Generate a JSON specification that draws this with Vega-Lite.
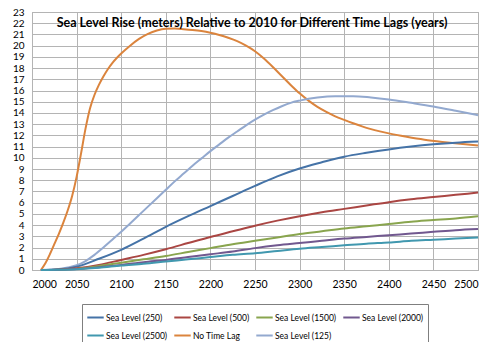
{
  "$schema": "https://vega.github.io/schema/vega-lite/v6.json",
  "width": 446,
  "height": 258,
  "autosize": {"type": "none"},
  "padding": {"left": 32, "top": 12, "right": 22, "bottom": 72},
  "background": "white",
  "title": {
    "text": "Sea Level Rise (meters) Relative to 2010 for Different Time Lags (years)",
    "font": "Lato",
    "fontSize": 12.5,
    "fontWeight": "bold",
    "color": "#000000",
    "anchor": "middle",
    "offset": -22,
    "dx": -3
  },
  "config": {
    "view": {"stroke": "#a0a0a0", "strokeWidth": 1},
    "axis": {
      "labelFont": "Lato",
      "labelFontSize": 10.5,
      "labelColor": "#000000",
      "gridColor": "#b4b4b4",
      "gridWidth": 1,
      "domain": false,
      "ticks": false,
      "title": null
    },
    "legend": {
      "labelFont": "Lato",
      "labelFontSize": 8.5,
      "labelColor": "#000000"
    }
  },
  "data": {
    "values": [
      {"year": 2010, "series": "No Time Lag", "value": 0},
      {"year": 2015, "series": "No Time Lag", "value": 0.6},
      {"year": 2020, "series": "No Time Lag", "value": 1.4},
      {"year": 2025, "series": "No Time Lag", "value": 2.3},
      {"year": 2030, "series": "No Time Lag", "value": 3.2},
      {"year": 2035, "series": "No Time Lag", "value": 4.2},
      {"year": 2040, "series": "No Time Lag", "value": 5.3},
      {"year": 2045, "series": "No Time Lag", "value": 6.6},
      {"year": 2050, "series": "No Time Lag", "value": 8.3},
      {"year": 2055, "series": "No Time Lag", "value": 10.4},
      {"year": 2060, "series": "No Time Lag", "value": 12.6},
      {"year": 2065, "series": "No Time Lag", "value": 14.4},
      {"year": 2070, "series": "No Time Lag", "value": 15.6},
      {"year": 2075, "series": "No Time Lag", "value": 16.5},
      {"year": 2080, "series": "No Time Lag", "value": 17.25},
      {"year": 2085, "series": "No Time Lag", "value": 17.9},
      {"year": 2090, "series": "No Time Lag", "value": 18.45},
      {"year": 2095, "series": "No Time Lag", "value": 18.9},
      {"year": 2100, "series": "No Time Lag", "value": 19.3},
      {"year": 2110, "series": "No Time Lag", "value": 20.0},
      {"year": 2120, "series": "No Time Lag", "value": 20.6},
      {"year": 2130, "series": "No Time Lag", "value": 21.05},
      {"year": 2140, "series": "No Time Lag", "value": 21.35},
      {"year": 2150, "series": "No Time Lag", "value": 21.5},
      {"year": 2160, "series": "No Time Lag", "value": 21.52},
      {"year": 2170, "series": "No Time Lag", "value": 21.47},
      {"year": 2180, "series": "No Time Lag", "value": 21.4},
      {"year": 2190, "series": "No Time Lag", "value": 21.3},
      {"year": 2200, "series": "No Time Lag", "value": 21.15},
      {"year": 2210, "series": "No Time Lag", "value": 20.95},
      {"year": 2220, "series": "No Time Lag", "value": 20.7},
      {"year": 2230, "series": "No Time Lag", "value": 20.4},
      {"year": 2240, "series": "No Time Lag", "value": 20.0},
      {"year": 2250, "series": "No Time Lag", "value": 19.5},
      {"year": 2260, "series": "No Time Lag", "value": 18.85},
      {"year": 2270, "series": "No Time Lag", "value": 18.1},
      {"year": 2280, "series": "No Time Lag", "value": 17.3},
      {"year": 2290, "series": "No Time Lag", "value": 16.5},
      {"year": 2300, "series": "No Time Lag", "value": 15.75},
      {"year": 2310, "series": "No Time Lag", "value": 15.1},
      {"year": 2320, "series": "No Time Lag", "value": 14.55},
      {"year": 2330, "series": "No Time Lag", "value": 14.1},
      {"year": 2340, "series": "No Time Lag", "value": 13.7},
      {"year": 2350, "series": "No Time Lag", "value": 13.38},
      {"year": 2360, "series": "No Time Lag", "value": 13.08},
      {"year": 2370, "series": "No Time Lag", "value": 12.8},
      {"year": 2380, "series": "No Time Lag", "value": 12.56},
      {"year": 2390, "series": "No Time Lag", "value": 12.36},
      {"year": 2400, "series": "No Time Lag", "value": 12.18},
      {"year": 2420, "series": "No Time Lag", "value": 11.88},
      {"year": 2440, "series": "No Time Lag", "value": 11.62},
      {"year": 2460, "series": "No Time Lag", "value": 11.42},
      {"year": 2480, "series": "No Time Lag", "value": 11.25},
      {"year": 2500, "series": "No Time Lag", "value": 11.1},

      {"year": 2010, "series": "Sea Level (125)", "value": 0},
      {"year": 2020, "series": "Sea Level (125)", "value": 0.03},
      {"year": 2030, "series": "Sea Level (125)", "value": 0.1},
      {"year": 2040, "series": "Sea Level (125)", "value": 0.22},
      {"year": 2050, "series": "Sea Level (125)", "value": 0.42},
      {"year": 2060, "series": "Sea Level (125)", "value": 0.8},
      {"year": 2070, "series": "Sea Level (125)", "value": 1.35},
      {"year": 2080, "series": "Sea Level (125)", "value": 2.0},
      {"year": 2090, "series": "Sea Level (125)", "value": 2.7},
      {"year": 2100, "series": "Sea Level (125)", "value": 3.4},
      {"year": 2110, "series": "Sea Level (125)", "value": 4.15},
      {"year": 2120, "series": "Sea Level (125)", "value": 4.9},
      {"year": 2130, "series": "Sea Level (125)", "value": 5.65},
      {"year": 2140, "series": "Sea Level (125)", "value": 6.4},
      {"year": 2150, "series": "Sea Level (125)", "value": 7.15},
      {"year": 2160, "series": "Sea Level (125)", "value": 7.9},
      {"year": 2170, "series": "Sea Level (125)", "value": 8.6},
      {"year": 2180, "series": "Sea Level (125)", "value": 9.3},
      {"year": 2190, "series": "Sea Level (125)", "value": 9.95},
      {"year": 2200, "series": "Sea Level (125)", "value": 10.6},
      {"year": 2210, "series": "Sea Level (125)", "value": 11.2},
      {"year": 2220, "series": "Sea Level (125)", "value": 11.8},
      {"year": 2230, "series": "Sea Level (125)", "value": 12.35},
      {"year": 2240, "series": "Sea Level (125)", "value": 12.9},
      {"year": 2250, "series": "Sea Level (125)", "value": 13.4},
      {"year": 2260, "series": "Sea Level (125)", "value": 13.85},
      {"year": 2270, "series": "Sea Level (125)", "value": 14.25},
      {"year": 2280, "series": "Sea Level (125)", "value": 14.6},
      {"year": 2290, "series": "Sea Level (125)", "value": 14.9},
      {"year": 2300, "series": "Sea Level (125)", "value": 15.1},
      {"year": 2320, "series": "Sea Level (125)", "value": 15.38},
      {"year": 2340, "series": "Sea Level (125)", "value": 15.5},
      {"year": 2360, "series": "Sea Level (125)", "value": 15.5},
      {"year": 2380, "series": "Sea Level (125)", "value": 15.38},
      {"year": 2400, "series": "Sea Level (125)", "value": 15.2},
      {"year": 2425, "series": "Sea Level (125)", "value": 14.9},
      {"year": 2450, "series": "Sea Level (125)", "value": 14.58},
      {"year": 2475, "series": "Sea Level (125)", "value": 14.2},
      {"year": 2500, "series": "Sea Level (125)", "value": 13.8},

      {"year": 2010, "series": "Sea Level (250)", "value": 0},
      {"year": 2030, "series": "Sea Level (250)", "value": 0.06},
      {"year": 2050, "series": "Sea Level (250)", "value": 0.3},
      {"year": 2075, "series": "Sea Level (250)", "value": 1.0},
      {"year": 2100, "series": "Sea Level (250)", "value": 1.8},
      {"year": 2125, "series": "Sea Level (250)", "value": 2.8},
      {"year": 2150, "series": "Sea Level (250)", "value": 3.85},
      {"year": 2175, "series": "Sea Level (250)", "value": 4.8},
      {"year": 2200, "series": "Sea Level (250)", "value": 5.7},
      {"year": 2225, "series": "Sea Level (250)", "value": 6.6},
      {"year": 2250, "series": "Sea Level (250)", "value": 7.5},
      {"year": 2275, "series": "Sea Level (250)", "value": 8.35},
      {"year": 2300, "series": "Sea Level (250)", "value": 9.05},
      {"year": 2325, "series": "Sea Level (250)", "value": 9.6},
      {"year": 2350, "series": "Sea Level (250)", "value": 10.1},
      {"year": 2375, "series": "Sea Level (250)", "value": 10.45},
      {"year": 2400, "series": "Sea Level (250)", "value": 10.75},
      {"year": 2425, "series": "Sea Level (250)", "value": 11.0},
      {"year": 2450, "series": "Sea Level (250)", "value": 11.2},
      {"year": 2475, "series": "Sea Level (250)", "value": 11.35},
      {"year": 2500, "series": "Sea Level (250)", "value": 11.45},

      {"year": 2010, "series": "Sea Level (500)", "value": 0},
      {"year": 2030, "series": "Sea Level (500)", "value": 0.03},
      {"year": 2050, "series": "Sea Level (500)", "value": 0.15},
      {"year": 2075, "series": "Sea Level (500)", "value": 0.45},
      {"year": 2100, "series": "Sea Level (500)", "value": 0.9},
      {"year": 2125, "series": "Sea Level (500)", "value": 1.35},
      {"year": 2150, "series": "Sea Level (500)", "value": 1.85},
      {"year": 2175, "series": "Sea Level (500)", "value": 2.4},
      {"year": 2200, "series": "Sea Level (500)", "value": 2.95},
      {"year": 2225, "series": "Sea Level (500)", "value": 3.45},
      {"year": 2250, "series": "Sea Level (500)", "value": 3.95},
      {"year": 2275, "series": "Sea Level (500)", "value": 4.4},
      {"year": 2300, "series": "Sea Level (500)", "value": 4.8},
      {"year": 2325, "series": "Sea Level (500)", "value": 5.15},
      {"year": 2350, "series": "Sea Level (500)", "value": 5.45},
      {"year": 2375, "series": "Sea Level (500)", "value": 5.75},
      {"year": 2400, "series": "Sea Level (500)", "value": 6.05},
      {"year": 2425, "series": "Sea Level (500)", "value": 6.3},
      {"year": 2450, "series": "Sea Level (500)", "value": 6.5},
      {"year": 2475, "series": "Sea Level (500)", "value": 6.7},
      {"year": 2500, "series": "Sea Level (500)", "value": 6.9},

      {"year": 2010, "series": "Sea Level (1500)", "value": 0},
      {"year": 2030, "series": "Sea Level (1500)", "value": 0.02},
      {"year": 2050, "series": "Sea Level (1500)", "value": 0.1},
      {"year": 2075, "series": "Sea Level (1500)", "value": 0.35},
      {"year": 2100, "series": "Sea Level (1500)", "value": 0.65},
      {"year": 2125, "series": "Sea Level (1500)", "value": 0.95},
      {"year": 2150, "series": "Sea Level (1500)", "value": 1.25},
      {"year": 2175, "series": "Sea Level (1500)", "value": 1.6},
      {"year": 2200, "series": "Sea Level (1500)", "value": 1.95},
      {"year": 2225, "series": "Sea Level (1500)", "value": 2.3},
      {"year": 2250, "series": "Sea Level (1500)", "value": 2.6},
      {"year": 2275, "series": "Sea Level (1500)", "value": 2.9},
      {"year": 2300, "series": "Sea Level (1500)", "value": 3.2},
      {"year": 2325, "series": "Sea Level (1500)", "value": 3.45},
      {"year": 2350, "series": "Sea Level (1500)", "value": 3.7},
      {"year": 2375, "series": "Sea Level (1500)", "value": 3.9},
      {"year": 2400, "series": "Sea Level (1500)", "value": 4.1},
      {"year": 2425, "series": "Sea Level (1500)", "value": 4.3},
      {"year": 2450, "series": "Sea Level (1500)", "value": 4.45},
      {"year": 2475, "series": "Sea Level (1500)", "value": 4.6},
      {"year": 2500, "series": "Sea Level (1500)", "value": 4.8},

      {"year": 2010, "series": "Sea Level (2000)", "value": 0},
      {"year": 2030, "series": "Sea Level (2000)", "value": 0.02},
      {"year": 2050, "series": "Sea Level (2000)", "value": 0.08},
      {"year": 2075, "series": "Sea Level (2000)", "value": 0.25},
      {"year": 2100, "series": "Sea Level (2000)", "value": 0.45},
      {"year": 2125, "series": "Sea Level (2000)", "value": 0.7},
      {"year": 2150, "series": "Sea Level (2000)", "value": 0.9},
      {"year": 2175, "series": "Sea Level (2000)", "value": 1.15},
      {"year": 2200, "series": "Sea Level (2000)", "value": 1.4},
      {"year": 2225, "series": "Sea Level (2000)", "value": 1.65},
      {"year": 2250, "series": "Sea Level (2000)", "value": 1.95},
      {"year": 2275, "series": "Sea Level (2000)", "value": 2.2},
      {"year": 2300, "series": "Sea Level (2000)", "value": 2.4},
      {"year": 2325, "series": "Sea Level (2000)", "value": 2.6},
      {"year": 2350, "series": "Sea Level (2000)", "value": 2.8},
      {"year": 2375, "series": "Sea Level (2000)", "value": 2.95},
      {"year": 2400, "series": "Sea Level (2000)", "value": 3.1},
      {"year": 2425, "series": "Sea Level (2000)", "value": 3.25},
      {"year": 2450, "series": "Sea Level (2000)", "value": 3.4},
      {"year": 2475, "series": "Sea Level (2000)", "value": 3.55},
      {"year": 2500, "series": "Sea Level (2000)", "value": 3.65},

      {"year": 2010, "series": "Sea Level (2500)", "value": 0},
      {"year": 2030, "series": "Sea Level (2500)", "value": 0.02},
      {"year": 2050, "series": "Sea Level (2500)", "value": 0.07},
      {"year": 2075, "series": "Sea Level (2500)", "value": 0.2},
      {"year": 2100, "series": "Sea Level (2500)", "value": 0.4},
      {"year": 2125, "series": "Sea Level (2500)", "value": 0.55},
      {"year": 2150, "series": "Sea Level (2500)", "value": 0.75},
      {"year": 2175, "series": "Sea Level (2500)", "value": 0.95},
      {"year": 2200, "series": "Sea Level (2500)", "value": 1.15},
      {"year": 2225, "series": "Sea Level (2500)", "value": 1.35},
      {"year": 2250, "series": "Sea Level (2500)", "value": 1.5},
      {"year": 2275, "series": "Sea Level (2500)", "value": 1.7},
      {"year": 2300, "series": "Sea Level (2500)", "value": 1.9},
      {"year": 2325, "series": "Sea Level (2500)", "value": 2.05},
      {"year": 2350, "series": "Sea Level (2500)", "value": 2.2},
      {"year": 2375, "series": "Sea Level (2500)", "value": 2.35},
      {"year": 2400, "series": "Sea Level (2500)", "value": 2.45},
      {"year": 2425, "series": "Sea Level (2500)", "value": 2.6},
      {"year": 2450, "series": "Sea Level (2500)", "value": 2.7},
      {"year": 2475, "series": "Sea Level (2500)", "value": 2.8},
      {"year": 2500, "series": "Sea Level (2500)", "value": 2.9}
    ]
  },
  "mark": {"type": "line", "interpolate": "monotone", "strokeWidth": 2},
  "encoding": {
    "x": {
      "field": "year",
      "type": "quantitative",
      "scale": {"domain": [2000, 2500], "nice": false, "zero": false},
      "axis": {
        "values": [2000, 2050, 2100, 2150, 2200, 2250, 2300, 2350, 2400, 2450, 2500],
        "format": "d",
        "labelPadding": 9
      }
    },
    "y": {
      "field": "value",
      "type": "quantitative",
      "scale": {"domain": [0, 23], "nice": false},
      "axis": {
        "values": [0,1,2,3,4,5,6,7,8,9,10,11,12,13,14,15,16,17,18,19,20,21,22,23],
        "labelPadding": 8,
        "labelFontSize": 10,
        "labelOverlap": false
      }
    },
    "color": {
      "field": "series",
      "type": "nominal",
      "scale": {
        "domain": ["Sea Level (250)", "Sea Level (500)", "Sea Level (1500)", "Sea Level (2000)", "Sea Level (2500)", "No Time Lag", "Sea Level (125)"],
        "range": ["#4573A7", "#AA4643", "#89A54E", "#71588F", "#4198AF", "#DB843D", "#93A9CF"]
      },
      "legend": {
        "title": null,
        "orient": "none",
        "legendX": 50,
        "legendY": 292,
        "direction": "horizontal",
        "columns": 4,
        "symbolType": "stroke",
        "symbolSize": 270,
        "symbolStrokeWidth": 2,
        "labelOffset": 1,
        "columnPadding": 2,
        "rowPadding": 4,
        "strokeColor": "#7f7f7f",
        "padding": 4
      }
    }
  }
}
